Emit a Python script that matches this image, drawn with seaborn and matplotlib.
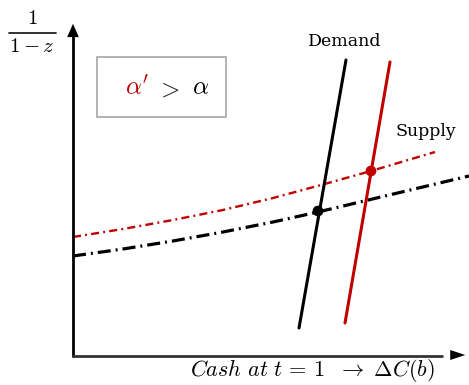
import numpy as np
import pandas as pd
import matplotlib
matplotlib.use('Agg')
import matplotlib.pyplot as plt
import seaborn as sns

sns.set_theme(style='white')
plt.rcParams['font.family'] = ['DejaVu Serif']
plt.rcParams['mathtext.fontset'] = 'cm'
plt.rcParams['lines.scale_dashes'] = False
plt.rcParams['text.color'] = 'black'

# values (pixel-like units, y grows downward)
supply_x = [73, 123, 173, 223, 273, 318, 406, 469]
supply_black_y = [256, 249, 241, 232, 222, 212, 191, 176]
supply_red_x = [73, 123, 173, 223, 273, 321, 371, 435]
supply_red_y = [237, 229, 220, 210, 198, 185, 171, 152]

demand_black_x = [299, 346]
demand_black_y = [328, 60]
demand_red_x = [345, 390]
demand_red_y = [323, 62]

eq_x = [318, 371]
eq_y = [211, 171]

RED = '#c00000'
dashdot_black = (0, (9.4, 3.6, 1.4, 3.6))
dashdot_red = (0, (5.8, 3.0, 1.4, 3.0))

fig = plt.figure(figsize=(4.69, 3.85), dpi=100)
ax = fig.add_axes([0, 0, 1, 1])
ax.set_xlim(0, 469)
ax.set_ylim(385, 0)
ax.axis('off')

# supply curves
sns.lineplot(x=supply_x, y=supply_black_y, ax=ax, color='black', lw=2.3,
             linestyle=dashdot_black, sort=False)
sns.lineplot(x=supply_red_x, y=supply_red_y, ax=ax, color=RED, lw=1.7,
             linestyle=dashdot_red, sort=False)

# demand curves
sns.lineplot(x=demand_black_x, y=demand_black_y, ax=ax, color='black', lw=2.2, sort=False)
sns.lineplot(x=demand_red_x, y=demand_red_y, ax=ax, color=RED, lw=2.2, sort=False)

# equilibrium points
sns.scatterplot(x=eq_x, y=eq_y, ax=ax, hue=['a', 'b'], palette=['black', RED],
                s=60, edgecolor='none', legend=False, zorder=5)

# axes with arrows
ax.plot([73, 73], [357, 30], color='black', lw=2, solid_capstyle='butt')
ax.annotate('', xy=(73, 21), xytext=(73, 33),
            arrowprops=dict(arrowstyle='-|>,head_width=0.35,head_length=0.8',
                            color='black', lw=0))
ax.plot([72, 443], [356, 356], color='#333333', lw=2, solid_capstyle='butt')
ax.annotate('', xy=(468, 355), xytext=(455, 355),
            arrowprops=dict(arrowstyle='-|>,head_width=0.3,head_length=0.9',
                            color='black', lw=0))

# box with alpha label
ax.add_patch(plt.Rectangle((97, 57), 129, 60, fill=False, edgecolor='#a6a6a6', lw=1.2))
ax.text(137, 88, r"$\alpha'$", color=RED, fontsize=18, ha='center', va='center')
ax.text(168, 89, r"$>$", color='#222222', fontsize=18, ha='center', va='center')
ax.text(201, 88, r"$\alpha$", color='black', fontsize=18, ha='center', va='center')

# labels
ax.text(345, 42, 'Demand', fontsize=12.5, ha='center', va='center')
ax.text(426, 131, 'Supply', fontsize=12.5, ha='center', va='center')
# y label as a stacked fraction 1 / (1 - z)
ax.text(32, 18, r'$1$', fontsize=15, ha='center', va='center')
ax.plot([9, 56], [33, 33], color='#222222', lw=1.3)
ax.text(32, 46, r'$1-z$', fontsize=15, ha='center', va='center')
ax.text(312, 371, r'$Cash\ at\ t\,=\,1\ \ \rightarrow\ \Delta C(b)$', fontsize=16,
        ha='center', va='center')

fig.savefig('out.png', dpi=100)
